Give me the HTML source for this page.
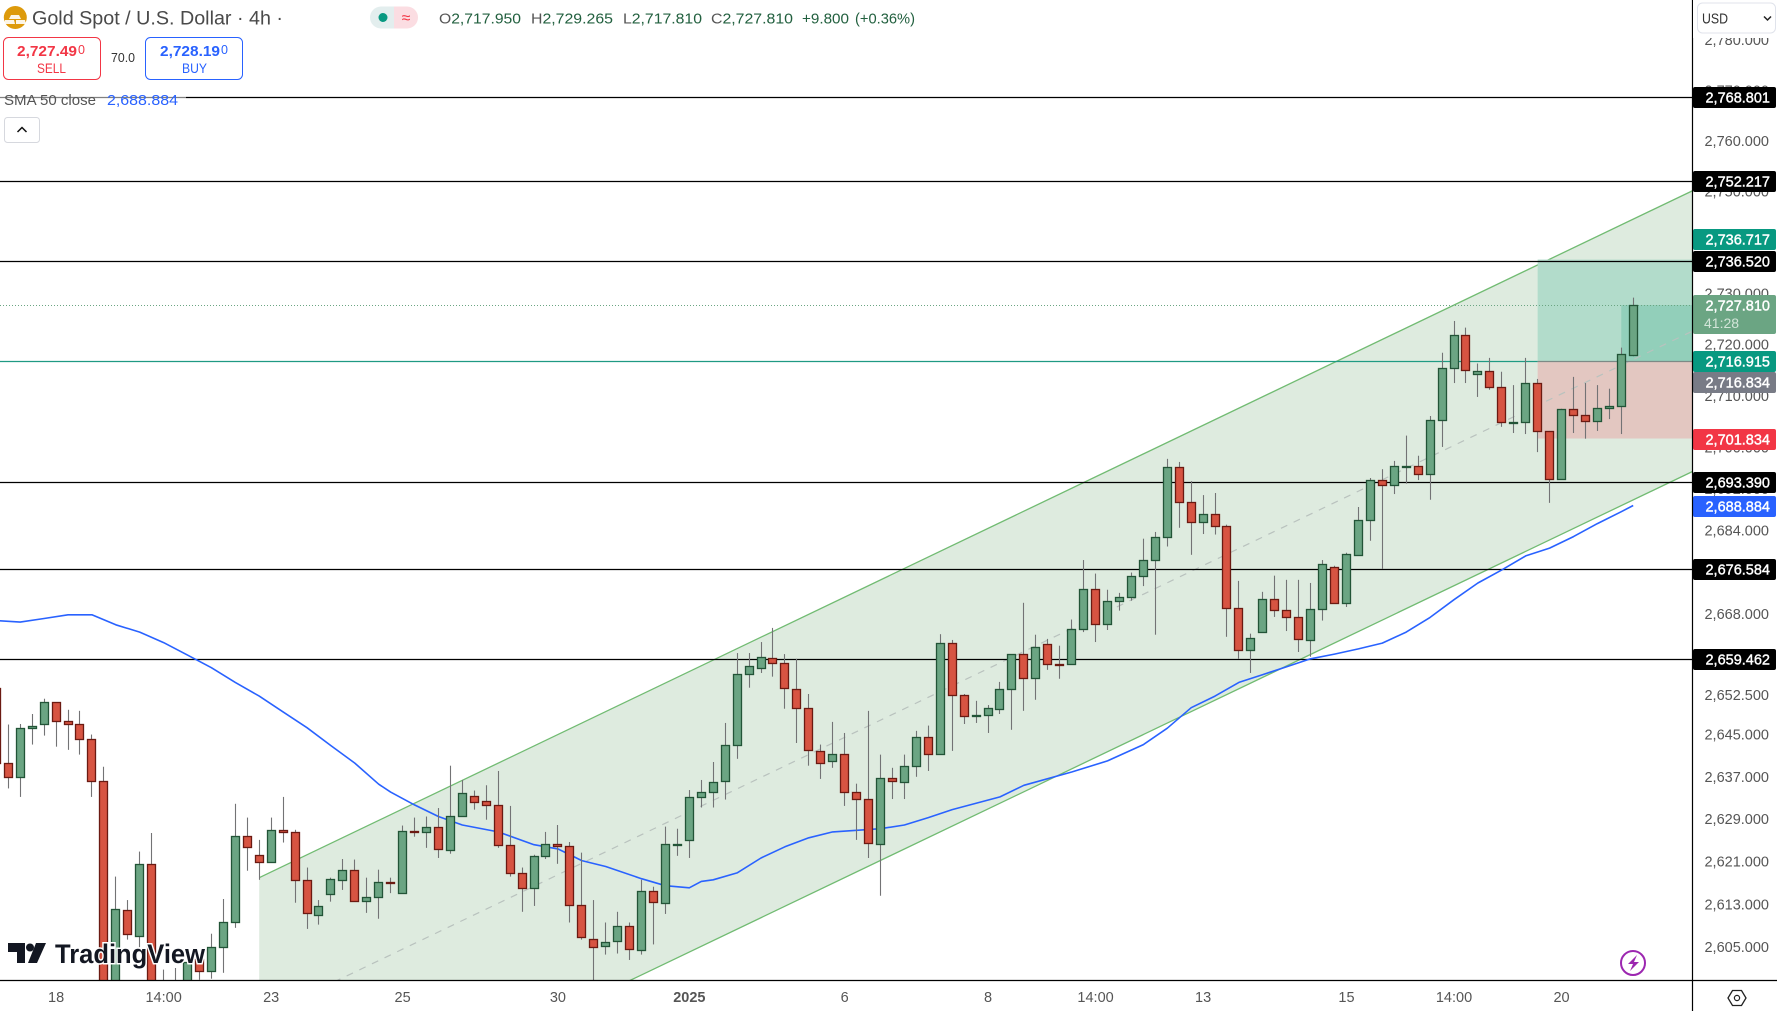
<!DOCTYPE html>
<html lang="en">
<head>
<meta charset="utf-8">
<title>Gold Spot / U.S. Dollar 4h chart</title>
<style>
  html,body{margin:0;padding:0;background:#fff;width:1777px;height:1011px;overflow:hidden;}
  svg{display:block;overflow:hidden;font-family:"Liberation Sans",sans-serif;}
</style>
</head>
<body>
<svg id="chart" xmlns="http://www.w3.org/2000/svg" width="1777" height="1011" viewBox="0 0 1777 1011">
  <defs>
    <clipPath id="plot-clip"><rect x="0" y="0" width="1692" height="980"/></clipPath>
  </defs>
  <rect x="0" y="0" width="1777" height="1011" fill="#ffffff"/>
  <g id="plot" clip-path="url(#plot-clip)">
    <g id="channel"></g>
    <g id="zones"></g>
    <g id="midline"></g>
    <g id="levels"></g>
    <g id="entry"></g>
    <g id="sma"></g>
    <g id="candles"></g>
  </g>

  <g id="price-axis"></g>
  <g id="time-axis"></g>
  <g id="tags"></g>

  <line x1="1692.5" y1="0" x2="1692.5" y2="1011" stroke="#000" stroke-width="1.2"/>
  <line x1="0" y1="980.5" x2="1777" y2="980.5" stroke="#000" stroke-width="1.2"/>

  <rect x="1693" y="0" width="84" height="38" fill="#fff"/>
  <g>
    <rect x="1697.5" y="3" width="78" height="30" rx="5" fill="#fff" stroke="#e0e3eb"/>
    <text x="1702" y="23.5" font-size="14.5" fill="#333" textLength="26" lengthAdjust="spacingAndGlyphs">USD</text>
    <path d="M1764 16.5l3.5 3.5 3.5-3.5" fill="none" stroke="#222" stroke-width="1.5"/>
  </g>

  <g>
    <circle cx="15.3" cy="17.5" r="11.5" fill="#dd9a0b"/>
    <path d="M11 15h8l2 4H9zM5 20h9l1 4H4zM16 20h9l1 4H16z" fill="#fff" opacity=".9"/>
    <text x="32" y="24.5" font-size="19" fill="#4a4a4a" textLength="251" lengthAdjust="spacingAndGlyphs">Gold Spot / U.S. Dollar · 4h ·</text>
    <path d="M381 6.5h13v22h-13a11 11 0 0 1 0-22z" fill="#e3eeee"/>
    <path d="M394 6.5h13a11 11 0 0 1 0 22h-13z" fill="#fbdde2"/>
    <circle cx="383" cy="17.5" r="4.5" fill="#089981"/>
    <text x="406" y="23" font-size="16" fill="#f23645" text-anchor="middle">≈</text>
    <text x="439" y="23.5" font-size="15" fill="#22603f" textLength="82" lengthAdjust="spacingAndGlyphs"><tspan fill="#555">O</tspan>2,717.950</text>
    <text x="531" y="23.5" font-size="15" fill="#22603f" textLength="82" lengthAdjust="spacingAndGlyphs"><tspan fill="#555">H</tspan>2,729.265</text>
    <text x="623" y="23.5" font-size="15" fill="#22603f" textLength="79" lengthAdjust="spacingAndGlyphs"><tspan fill="#555">L</tspan>2,717.810</text>
    <text x="711" y="23.5" font-size="15" fill="#22603f" textLength="82" lengthAdjust="spacingAndGlyphs"><tspan fill="#555">C</tspan>2,727.810</text>
    <text x="802" y="23.5" font-size="15" fill="#22603f" textLength="47" lengthAdjust="spacingAndGlyphs">+9.800</text>
    <text x="855" y="23.5" font-size="15" fill="#22603f" textLength="60" lengthAdjust="spacingAndGlyphs">(+0.36%)</text>
  </g>

  <g>
    <rect x="3.5" y="37.5" width="97" height="42" rx="5" fill="#fff" stroke="#f23645"/>
    <text x="17" y="56" font-size="15" font-weight="700" fill="#f23645" textLength="60" lengthAdjust="spacingAndGlyphs">2,727.49</text>
    <text x="78" y="54" font-size="12.5" fill="#f23645">0</text>
    <text x="37" y="73" font-size="13.5" fill="#f23645" textLength="29" lengthAdjust="spacingAndGlyphs">SELL</text>
  </g>
  <text x="111" y="62" font-size="13" fill="#333" textLength="24" lengthAdjust="spacingAndGlyphs">70.0</text>
  <g>
    <rect x="145.5" y="37.5" width="97" height="42" rx="5" fill="#fff" stroke="#2962ff"/>
    <text x="160" y="56" font-size="15" font-weight="700" fill="#2962ff" textLength="60" lengthAdjust="spacingAndGlyphs">2,728.19</text>
    <text x="221" y="54" font-size="12.5" fill="#2962ff">0</text>
    <text x="182" y="73" font-size="13.5" fill="#2962ff" textLength="25" lengthAdjust="spacingAndGlyphs">BUY</text>
  </g>

  <rect x="0" y="90" width="186" height="20" fill="#fff" opacity=".5"/>
  <text x="4" y="105" font-size="14.5" fill="#555" textLength="92" lengthAdjust="spacingAndGlyphs">SMA 50 close</text>
  <text x="107" y="105" font-size="14.5" fill="#2962ff" textLength="71" lengthAdjust="spacingAndGlyphs">2,688.884</text>
  <g>
    <rect x="4.5" y="117.5" width="35" height="25" rx="3" fill="#fff" stroke="#d6d8de"/>
    <path d="M17.5 132l4.5-4.5 4.5 4.5" fill="none" stroke="#111" stroke-width="1.5"/>
  </g>

  <g>
    <path d="M8 943h17v20h-8v-11H8zM36 943h10l-9 20h-9z" fill="#131722" stroke="#fff" stroke-width="2" paint-order="stroke"/>
    <circle cx="30" cy="947.5" r="4" fill="#131722"/>
    <text x="55" y="963" font-size="27" font-weight="700" fill="#131722" stroke="#fff" stroke-width="3" paint-order="stroke" textLength="150" lengthAdjust="spacingAndGlyphs">TradingView</text>
  </g>

  <g>
    <circle cx="1633" cy="963" r="12" fill="#fff" stroke="#9c27b0" stroke-width="2"/>
    <path d="M1637 955l-9 9h5l-3 7 9-9h-5z" fill="#9c27b0"/>
  </g>
  <g>
    <path d="M1728 998l4.5-7.5h9l4.5 7.5-4.5 7.5h-9z" fill="none" stroke="#222" stroke-width="1.3"/>
    <circle cx="1737" cy="998" r="2.6" fill="none" stroke="#222" stroke-width="1.2"/>
  </g>
</svg>

<script>
// ---------- data ----------
const firstIndex = -1;
const opens = [2653.8,2639.7,2637.0,2646.2,2647.0,2651.1,2647.5,2647.0,2644.1,2636.2,2595.3,2611.9,2607.0,2620.5,2598.0,2596.2,2597.1,2602.7,2600.5,2605.1,
2609.7,2625.8,2622.2,2620.9,2626.9,2626.5,2617.5,2611.1,2614.9,2617.5,2619.4,2613.6,2614.3,2617.1,2615.2,2626.7,2626.5,2627.5,2623.2,2629.6,
2633.3,2632.4,2631.6,2624.1,2618.8,2616.0,2622.0,2624.3,2623.9,2612.8,2606.6,2605.3,2606.1,2608.9,2604.4,2615.5,2613.2,2624.2,2625.0,2633.1,
2634.1,2636.2,2643.0,2656.6,2657.7,2659.5,2658.7,2653.6,2650.0,2641.8,2639.9,2641.4,2634.1,2632.8,2624.3,2636.7,2636.0,2639.0,2644.5,2641.4,
2662.5,2652.6,2648.6,2648.8,2649.8,2653.6,2660.3,2655.7,2662.2,2658.5,2658.5,2665.0,2672.7,2666.0,2670.4,2671.2,2675.2,2678.4,2682.7,2696.2,
2689.4,2685.7,2687.1,2684.8,2669.2,2661.0,2664.5,2670.8,2668.7,2667.4,2662.9,2669.0,2676.9,2670.0,2679.2,2686.0,2693.8,2692.8,2696.3,2696.4,
2694.8,2705.4,2715.4,2721.8,2714.2,2714.8,2711.7,2704.9,2705.0,2712.6,2703.1,2694.0,2707.4,2706.2,2705.2,2707.6,2708.0,2717.95];
const highs = [2654.0,2647.0,2647.1,2649.0,2651.9,2651.1,2649.8,2649.6,2645.1,2639.0,2618.3,2613.9,2623.0,2626.5,2600.9,2601.2,2602.7,2603.1,2607.6,2614.1,
2632.0,2629.4,2625.2,2629.4,2633.3,2627.1,2620.0,2613.9,2618.1,2621.6,2621.5,2618.1,2619.6,2618.1,2627.9,2629.4,2629.6,2631.2,2639.2,2636.5,
2634.5,2635.5,2638.2,2631.6,2620.0,2622.4,2626.7,2628.0,2624.8,2622.8,2613.9,2609.7,2611.7,2609.7,2617.7,2616.4,2627.7,2627.3,2634.6,2636.5,
2639.9,2647.3,2660.6,2660.6,2662.7,2665.4,2660.4,2659.5,2652.8,2643.2,2647.5,2645.4,2635.8,2649.6,2641.3,2638.8,2641.3,2645.8,2646.8,2664.2,
2663.1,2652.8,2651.5,2650.7,2655.1,2660.4,2670.2,2664.1,2663.3,2662.0,2667.0,2678.4,2675.8,2672.7,2672.1,2676.0,2682.5,2683.8,2697.9,2697.3,
2693.6,2690.9,2691.3,2685.2,2674.4,2664.3,2672.3,2675.4,2674.6,2674.6,2674.0,2678.4,2677.3,2679.8,2688.6,2694.2,2695.9,2697.5,2702.4,2698.5,
2706.2,2718.5,2724.7,2723.4,2716.4,2717.5,2714.8,2712.2,2717.5,2713.4,2703.3,2707.6,2713.8,2712.6,2712.2,2711.5,2719.5,2729.265];
const lows = [2639.5,2634.9,2633.3,2643.2,2644.9,2642.8,2642.2,2641.3,2633.3,2594.4,2594.4,2606.5,2605.1,2594.4,2595.3,2595.3,2596.2,2599.0,2599.2,2600.3,
2608.7,2619.4,2617.7,2620.9,2624.7,2613.4,2608.5,2609.3,2613.6,2615.8,2613.6,2611.5,2610.4,2615.2,2615.2,2625.8,2623.7,2621.8,2622.6,2629.6,
2630.9,2629.0,2623.7,2618.3,2611.7,2612.8,2621.6,2620.7,2609.7,2606.5,2598.0,2603.7,2603.9,2602.7,2603.7,2605.6,2611.3,2622.2,2621.8,2631.3,
2631.3,2632.8,2640.5,2654.0,2656.8,2656.1,2650.0,2643.5,2639.2,2636.7,2638.8,2631.6,2625.2,2621.8,2614.7,2632.9,2632.9,2637.1,2638.2,2641.4,
2642.0,2647.1,2647.3,2645.4,2649.0,2646.0,2649.6,2651.7,2657.4,2655.7,2658.5,2664.6,2662.7,2665.0,2668.7,2670.6,2673.4,2664.1,2681.0,2684.6,
2679.4,2683.4,2683.3,2663.7,2659.5,2656.8,2664.5,2667.5,2664.8,2660.8,2659.9,2666.8,2670.0,2669.4,2679.2,2682.1,2676.7,2691.1,2693.1,2693.8,
2690.0,2700.2,2712.6,2712.6,2709.9,2711.3,2704.1,2702.9,2702.7,2699.2,2689.4,2694.0,2702.9,2701.8,2703.3,2705.6,2702.7,2717.81];
const closes = [2639.7,2637.0,2646.2,2646.6,2651.1,2647.5,2647.0,2644.1,2636.2,2595.3,2612.1,2607.4,2620.5,2595.3,2596.2,2598.0,2602.2,2600.5,2605.1,2609.7,
2625.8,2623.7,2620.9,2626.9,2626.5,2617.5,2611.3,2612.6,2617.7,2619.4,2613.6,2614.3,2617.1,2617.0,2626.7,2626.5,2627.5,2623.3,2629.6,2634.0,
2632.2,2631.6,2624.1,2618.8,2616.0,2622.0,2624.3,2623.9,2612.8,2606.8,2605.1,2605.9,2608.9,2604.6,2615.5,2613.4,2624.3,2624.3,2633.1,2634.1,
2636.0,2643.0,2656.6,2658.1,2659.7,2658.7,2653.8,2650.0,2642.0,2639.7,2641.4,2634.1,2632.8,2624.5,2636.7,2636.2,2639.0,2644.5,2641.4,2662.5,
2652.6,2648.6,2648.7,2650.0,2653.6,2660.3,2655.7,2661.6,2658.5,2658.4,2665.0,2672.7,2666.0,2670.4,2671.2,2675.2,2678.4,2682.7,2696.2,2689.4,
2685.7,2687.1,2684.8,2669.2,2661.0,2663.3,2670.8,2668.7,2667.4,2663.1,2669.0,2677.5,2670.0,2679.4,2686.0,2693.8,2692.8,2696.4,2696.4,2694.8,
2705.4,2715.4,2721.8,2715.0,2714.8,2711.7,2705.0,2705.0,2712.6,2703.1,2694.0,2707.4,2706.2,2705.2,2707.6,2708.0,2718.1,2727.81];

const smaIndex = [-1,1,3,5,7,9,11,13,15,17,19,21,23,25,27,29,31,32,34,36,38,41,44,46,48,50,53,55,57,58,59,61,63,65,67,69,73,75,77,79,83,85,89,92,95,97,99,101,103,105,107,109,111,113,115,117,119,121,123,125,127,129,131,133,135,136];
const smaValues = [2666.8,2666.5,2667.2,2667.9,2667.9,2666.0,2664.6,2662.6,2660.2,2657.8,2655.0,2652.4,2649.4,2646.4,2643.0,2639.7,2635.7,2634.2,2631.8,2629.6,2628.0,2626.7,2624.3,2623.5,2621.3,2620.2,2617.9,2616.6,2616.2,2617.4,2617.7,2619.0,2621.8,2623.9,2625.6,2626.7,2627.3,2628.0,2629.4,2630.9,2633.3,2635.5,2638.0,2640.1,2643.2,2646.3,2650.2,2652.4,2655.0,2656.5,2658.0,2659.5,2660.4,2661.4,2662.5,2664.6,2667.4,2670.8,2674.0,2676.5,2679.2,2680.7,2682.9,2685.4,2687.7,2688.884];

const levelPrices = [2768.801,2752.217,2736.520,2693.390,2676.584,2659.462];
const channelIndex = [21,141];
const channelUpper = [2618.1,2750.3];
const channelLower = [2566.0,2695.5];
const positionStartIndex = 128;
const positionEntry = 2716.834;
const positionTarget = 2736.717;
const positionStop = 2701.834;
const openOrderIndex = 135;
const lastPrice = 2727.810;
const entryLinePrice = 2716.915;

const priceTicks = [2780,2770,2760,2750,2730,2720,2710,2700,2692,2684,2668,2652.5,2645,2637,2629,2621,2613,2605];
const tagPrices = [2768.801,2752.217,2736.717,2736.520,2716.915,2716.834,2701.834,2693.390,2688.884,2676.584,2659.462];
const tagKinds = ['level','level','target','level','line','entry','stop','level','sma','level','level'];
const countdownLabel = '41:28';
const timeLabels = ['18','14:00','23','25','30','2025','6','8','14:00','13','15','14:00','20'];
const timeIndex = [4,13,22,33,46,57,70,82,91,100,112,121,130];

// ---------- axes ----------
const SVGNS = 'http://www.w3.org/2000/svg';
const PLOT_BOTTOM = 982;
function xAt(k){ return 8.3 + 11.948 * k; }
function yAt(p){ return 97 + 13949 * Math.log(2768.801 / p); }
function yClamped(p){ return Math.min(yAt(p), PLOT_BOTTOM); }
function px(v){ return Math.floor(v) + 0.5; }
function lineY(p){ return Math.floor(yAt(p) + 0.5) + 0.5; }
function fmt(p){
  const s = p.toFixed(3).split('.');
  return s[0].replace(/\B(?=(\d{3})+$)/g, ',') + '.' + s[1];
}
function mk(parent, tag, attrs, txt){
  const el = document.createElementNS(SVGNS, tag);
  for (const key in attrs) el.setAttribute(key, attrs[key]);
  if (txt !== undefined) el.textContent = txt;
  parent.appendChild(el);
  return el;
}
const byId = function(id){ return document.getElementById(id); };

// ---------- channel ----------
(function(){
  const g = byId('channel');
  const x0 = xAt(channelIndex[0]), x1 = xAt(channelIndex[1]);
  const yU0 = yAt(channelUpper[0]), yU1 = yAt(channelUpper[1]);
  const yL0 = yAt(channelLower[0]), yL1 = yAt(channelLower[1]);
  const crossLower = (PLOT_BOTTOM - yL0) / (yL1 - yL0);
  const xL = x0 + (x1 - x0) * crossLower;
  const fill = mk(g, 'polygon', {points: [x0,yU0,x1,yU1,x1,yL1,xL,PLOT_BOTTOM,x0,PLOT_BOTTOM].join(' '), fill:'#deebdf'});
  
  
  const up = mk(g, 'line', {x1:x0,y1:yU0,x2:x1,y2:yU1,stroke:'#71bb72','stroke-width':1.3});
  
  
  const lo = mk(g, 'line', {x1:xL,y1:PLOT_BOTTOM,x2:x1,y2:yL1,stroke:'#71bb72','stroke-width':1.3});
  
  

  const zg = byId('zones');
  const zx = xAt(positionStartIndex), zw = 1692 - zx;
  const tz = mk(zg, 'rect', {x:zx,y:yAt(positionTarget),width:zw,height:yAt(positionEntry)-yAt(positionTarget),fill:'#b2dccb'});
  
  
  const sz = mk(zg, 'rect', {x:zx,y:yAt(positionEntry),width:zw,height:yAt(positionStop)-yAt(positionEntry),fill:'#e3c7c1'});
  
  
  const iz = mk(zg, 'rect', {x:xAt(openOrderIndex),y:yAt(lastPrice),width:1692-xAt(openOrderIndex),height:yAt(positionEntry)-yAt(lastPrice),fill:'#92cfba'});
  
  

  const yM0 = (yU0 + yL0) / 2, yM1 = (yU1 + yL1) / 2;
  const crossMid = (PLOT_BOTTOM - yM0) / (yM1 - yM0);
  const md = mk(byId('midline'), 'line', {x1:x0+(x1-x0)*crossMid,y1:PLOT_BOTTOM,x2:x1,y2:yM1,stroke:'#b9c2be','stroke-width':1.2,'stroke-dasharray':'7 7'});
  
  
})();

// ---------- horizontal levels ----------
levelPrices.forEach(function(p){
  const ln = mk(byId('levels'), 'line', {x1:0,y1:lineY(p),x2:1692,y2:lineY(p),stroke:'#000','stroke-width':1.2});
  
  
});

// ---------- entry and last price lines ----------
(function(){
  const g = byId('entry');
  const zx = xAt(positionStartIndex);
  const a = mk(g, 'line', {x1:0,y1:lineY(entryLinePrice),x2:zx,y2:lineY(entryLinePrice),stroke:'#1f9a83','stroke-width':1.2});
  
  
  const b = mk(g, 'line', {x1:zx,y1:lineY(positionEntry),x2:1692,y2:lineY(positionEntry),stroke:'#7d8a86','stroke-width':1.2});
  
  
  const c = mk(g, 'line', {x1:0,y1:lineY(lastPrice),x2:1692,y2:lineY(lastPrice),stroke:'#6ba583','stroke-width':1,'stroke-dasharray':'1 2'});
  
  
})();

// ---------- SMA ----------
(function(){
  const pts = smaIndex.map(function(k, i){ return xAt(k).toFixed(1) + ',' + yAt(smaValues[i]).toFixed(1); }).join(' ');
  const line = mk(byId('sma'), 'polyline', {points:pts,fill:'none',stroke:'#2962ff','stroke-width':1.6,'stroke-linejoin':'round'});
  
  
})();

// ---------- candles ----------
opens.forEach(function(open, i){
  const k = firstIndex + i;
  const close = closes[i];
  const up = close >= open;
  const cx = px(xAt(k));
  const g = mk(byId('candles'), 'g', {});
  
  
  const wick = mk(g, 'line', {x1:cx,y1:yClamped(highs[i]),x2:cx,y2:yClamped(lows[i]),stroke:'#737375','stroke-width':1.1});
  
  
  const top = px(yClamped(Math.max(open, close)));
  const bot = px(yClamped(Math.min(open, close)));
  const body = mk(g, 'rect', {x:cx-4,y:top,width:8,height:Math.max(bot-top,1),fill:up?'#6ba583':'#d75442',stroke:up?'#225437':'#6b1a12','stroke-width':1.3});
  
  
});

// ---------- price axis ----------
priceTicks.forEach(function(p){
  const t = mk(byId('price-axis'), 'text', {x:1769,y:yAt(p)+4.5,'font-size':14.5,fill:'#555','text-anchor':'end'}, fmt(p));
  
  
});

// ---------- time axis ----------
timeLabels.forEach(function(label, i){
  const bold = label === '2025';
  const t = mk(byId('time-axis'), 'text', {x:xAt(timeIndex[i]),y:1002,'font-size':14.5,fill:'#555','text-anchor':'middle','font-weight':bold?700:400}, label);
  
  
});

// ---------- price tags ----------
(function(){
  const kindColors = {level:'#000000',target:'#089981',line:'#089981',entry:'#787b86',stop:'#f23645',sma:'#2962ff'};
  const kindShift = {level:0,target:-21,line:0,entry:21,stop:0,sma:0};
  const tg = byId('tags');
  tagPrices.forEach(function(p, i){
    const kind = tagKinds[i];
    const cy = Math.floor(yAt(p) + 0.5) + kindShift[kind];
    const bg = mk(tg, 'rect', {x:1693,y:cy-10,width:83,height:21,rx:2,fill:kindColors[kind]});
    
    
    const tx = mk(tg, 'text', {x:1770,y:cy+5.5,'font-size':14.5,fill:'#fff','text-anchor':'end','stroke':'#fff','stroke-width':0.4}, fmt(p));
    
    
  });
  const ly = Math.floor(yAt(lastPrice) + 0.5);
  const lb = mk(tg, 'rect', {x:1693,y:ly-10,width:83,height:39,rx:2,fill:'#6ba583'});
  
  
  const lt = mk(tg, 'text', {x:1770,y:ly+5.5,'font-size':14.5,fill:'#fff','text-anchor':'end','stroke':'#fff','stroke-width':0.4}, fmt(lastPrice));
  
  
  const cd = mk(tg, 'text', {x:1704,y:ly+23,'font-size':14,fill:'#d3e5d9'}, countdownLabel);
  
  
})();
</script>
</body>
</html>
